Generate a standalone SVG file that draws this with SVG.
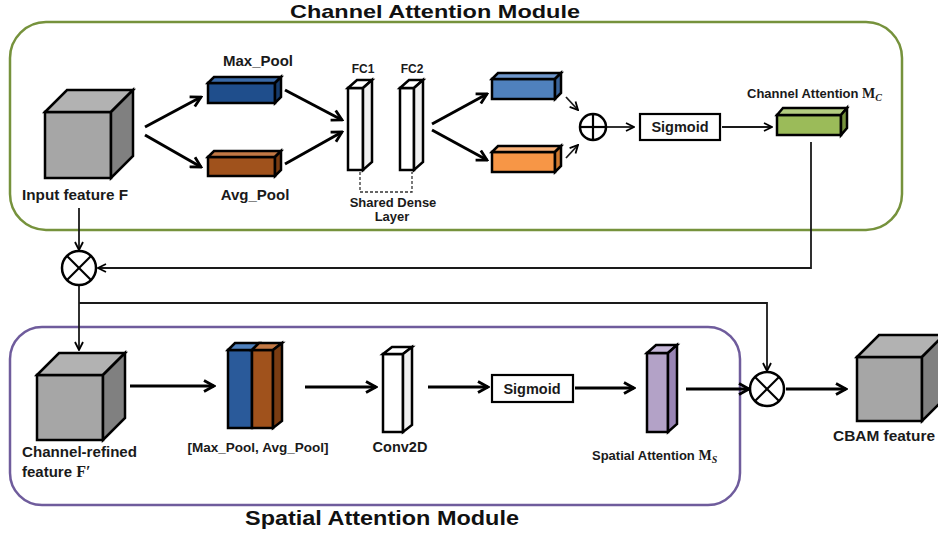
<svg xmlns="http://www.w3.org/2000/svg" width="938" height="535" viewBox="0 0 938 535">
<defs>
<marker id="big" viewBox="0 0 14 14" markerWidth="14" markerHeight="14" refX="12" refY="7" orient="auto" markerUnits="userSpaceOnUse">
<path d="M2,1.5 L12,7 L2,12.5" fill="none" stroke="#000" stroke-width="2.8"/>
</marker>
<marker id="small" viewBox="0 0 10 10" markerWidth="10" markerHeight="10" refX="9" refY="5" orient="auto" markerUnits="userSpaceOnUse">
<path d="M1,1 L9,5 L1,9" fill="none" stroke="#000" stroke-width="1.8"/>
</marker>
</defs>
<style>
.lbl{font-family:"Liberation Sans",Arial,sans-serif;font-weight:bold;fill:#1a1a1a;}
.title{font-family:"Liberation Sans",Arial,sans-serif;font-weight:bold;fill:#111;font-size:19px;}
.math{font-family:"Liberation Serif","Times New Roman",serif;font-weight:bold;}
.box{stroke:#000;stroke-width:2.5;stroke-linejoin:miter;}
.thick{stroke:#000;stroke-width:3;fill:none;}
.thin{stroke:#1a1a1a;stroke-width:1.8;fill:none;}
.op{fill:#fff;stroke:#000;stroke-width:2.5;}
</style>
<rect width="938" height="535" fill="#fff"/>

<!-- Module frames -->
<g id="channel-module">
<rect x="10" y="22" width="892" height="208" rx="36" ry="36" fill="none" stroke="#76923c" stroke-width="2.5"/>
<text class="title" x="435" y="18" text-anchor="middle" textLength="290" lengthAdjust="spacingAndGlyphs">Channel Attention Module</text>
</g>
<g id="spatial-module">
<rect x="10" y="327" width="730" height="178" rx="32" ry="32" fill="none" stroke="#6f5c9c" stroke-width="2.5"/>
<text class="title" x="382" y="525" text-anchor="middle" font-size="21" style="font-size:21px" textLength="274" lengthAdjust="spacingAndGlyphs">Spatial Attention Module</text>
</g>

<!-- Connectors -->
<g id="connectors">
<line class="thick" x1="145" y1="127" x2="201" y2="97" marker-end="url(#big)"/>
<line class="thick" x1="145" y1="135" x2="201" y2="167" marker-end="url(#big)"/>
<line class="thick" x1="285" y1="90" x2="342" y2="120" marker-end="url(#big)"/>
<line class="thick" x1="285" y1="164" x2="342" y2="132" marker-end="url(#big)"/>
<line class="thick" x1="432" y1="124" x2="487" y2="94" marker-end="url(#big)"/>
<line class="thick" x1="432" y1="130" x2="487" y2="160" marker-end="url(#big)"/>
<line class="thin" x1="566" y1="97" x2="578" y2="110" marker-end="url(#small)"/>
<line class="thin" x1="566" y1="158" x2="578" y2="145" marker-end="url(#small)"/>
<line class="thin" x1="607" y1="127" x2="634" y2="127" marker-end="url(#small)"/>
<line class="thin" x1="722" y1="127" x2="772" y2="127" marker-end="url(#small)"/>
<polyline class="thin" points="811,142 811,268 98,268" marker-end="url(#small)"/>
<line class="thin" x1="79" y1="208" x2="79" y2="250" marker-end="url(#small)"/>
<line class="thin" x1="79" y1="286" x2="79" y2="350" marker-end="url(#small)"/>
<polyline class="thin" points="79,303 767,303 767,371" marker-end="url(#small)"/>
<polyline fill="none" stroke="#333" stroke-width="1.3" stroke-dasharray="3,2" points="360,172 360,192 412,192 412,172"/>
<line class="thick" x1="130" y1="386" x2="214" y2="386" marker-end="url(#big)"/>
<line class="thick" x1="305" y1="387" x2="376" y2="387" marker-end="url(#big)"/>
<line class="thick" x1="428" y1="387" x2="488" y2="387" marker-end="url(#big)"/>
<line class="thick" x1="575" y1="388" x2="634" y2="388" marker-end="url(#big)"/>
<line class="thick" x1="686" y1="389" x2="749" y2="389" marker-end="url(#big)"/>
<line class="thick" x1="786" y1="389" x2="846" y2="389" marker-end="url(#big)"/>
</g>

<!-- Input feature cube -->
<g id="input-feature">
<rect class="box" x="45" y="112" width="66" height="66" fill="#a6a6a6"/>
<polygon class="box" points="45,112 67,90 133,90 111,112" fill="#b2b2b2"/>
<polygon class="box" points="111,112 133,90 133,156 111,178" fill="#808080"/>
<text class="lbl" x="22" y="200" font-size="15" textLength="106" lengthAdjust="spacingAndGlyphs">Input feature F</text>
</g>

<g id="max-pool">
<rect class="box" x="208" y="83" width="67" height="20" fill="#1f4e8c"/>
<polygon class="box" points="208,83 214,77 281,77 275,83" fill="#3a6aa8"/>
<polygon class="box" points="275,83 281,77 281,97 275,103" fill="#173c6c"/>
<text class="lbl" x="258" y="66" font-size="15" text-anchor="middle">Max_Pool</text>
</g>

<g id="avg-pool">
<rect class="box" x="208" y="157" width="67" height="19" fill="#a0521c"/>
<polygon class="box" points="208,157 214,151 281,151 275,157" fill="#c27844"/>
<polygon class="box" points="275,157 281,151 281,170 275,176" fill="#7a3c12"/>
<text class="lbl" x="255" y="200" font-size="15" text-anchor="middle">Avg_Pool</text>
</g>

<g id="fc1">
<rect class="box" x="348" y="88" width="15" height="82" fill="#fff"/>
<polygon class="box" points="348,88 357,80 372,80 363,88" fill="#fff"/>
<polygon class="box" points="363,88 372,80 372,162 363,170" fill="#f0f0f0"/>
<text class="lbl" x="363" y="73" font-size="12" text-anchor="middle">FC1</text>
</g>

<g id="fc2">
<rect class="box" x="400" y="88" width="14" height="82" fill="#fff"/>
<polygon class="box" points="400,88 409,80 423,80 414,88" fill="#fff"/>
<polygon class="box" points="414,88 423,80 423,162 414,170" fill="#f0f0f0"/>
<text class="lbl" x="412" y="73" font-size="12" text-anchor="middle">FC2</text>
</g>

<g id="shared-dense-label">
<text class="lbl" x="393" y="207" font-size="13" text-anchor="middle">Shared Dense</text>
<text class="lbl" x="392" y="221" font-size="13" text-anchor="middle">Layer</text>
</g>

<g id="max-out">
<rect class="box" x="492" y="79" width="63" height="20" fill="#4f81bd"/>
<polygon class="box" points="492,79 498,73 561,73 555,79" fill="#6f97cc"/>
<polygon class="box" points="555,79 561,73 561,93 555,99" fill="#3a649a"/>
</g>

<g id="avg-out">
<rect class="box" x="492" y="152" width="63" height="20" fill="#f79646"/>
<polygon class="box" points="492,152 498,146 561,146 555,152" fill="#f9b27a"/>
<polygon class="box" points="555,152 561,146 561,166 555,172" fill="#d07a30"/>
</g>

<g id="add">
<circle class="op" cx="593" cy="127" r="13"/>
<line x1="580" y1="127" x2="606" y2="127" stroke="#000" stroke-width="2.2"/>
<line x1="593" y1="114" x2="593" y2="140" stroke="#000" stroke-width="2.2"/>
</g>

<g id="sigmoid-1">
<rect x="640" y="114" width="80" height="26" fill="#fff" stroke="#000" stroke-width="2.2"/>
<text class="lbl" x="680" y="132" font-size="14.5" text-anchor="middle">Sigmoid</text>
</g>

<g id="channel-attention">
<rect class="box" x="777" y="115" width="64" height="20" fill="#9bbb59"/>
<polygon class="box" points="777,115 783,108 847,108 841,115" fill="#b3cc80"/>
<polygon class="box" points="841,115 847,108 847,128 841,135" fill="#76923c"/>
<text class="lbl" x="747" y="98" font-size="13">Channel Attention <tspan class="math" font-size="14">M</tspan><tspan class="math" font-size="10" font-style="italic" dy="3">C</tspan></text>
</g>

<g id="mul-1">
<circle class="op" cx="79" cy="268" r="17"/>
<line x1="67" y1="256" x2="91" y2="280" stroke="#000" stroke-width="2.2"/>
<line x1="91" y1="256" x2="67" y2="280" stroke="#000" stroke-width="2.2"/>
</g>

<g id="refined-feature">
<rect class="box" x="37" y="375" width="66" height="65" fill="#a6a6a6"/>
<polygon class="box" points="37,375 59,353 125,353 103,375" fill="#b2b2b2"/>
<polygon class="box" points="103,375 125,353 125,418 103,440" fill="#808080"/>
<text class="lbl" x="22" y="457" font-size="15" textLength="115" lengthAdjust="spacingAndGlyphs">Channel-refined</text>
<text class="lbl" x="22" y="477" font-size="15">feature <tspan class="math" font-size="16">F′</tspan></text>
</g>

<g id="concat-pool">
<rect class="box" x="228" y="350" width="24" height="78" fill="#2a5a9a"/>
<rect class="box" x="252" y="350" width="21" height="78" fill="#a0521c"/>
<polygon class="box" points="228,350 235,343 259,343 252,350" fill="#4f81bd"/>
<polygon class="box" points="252,350 259,343 282,343 273,350" fill="#c27844"/>
<polygon class="box" points="273,350 282,343 282,421 273,428" fill="#7a3c12"/>
<text class="lbl" x="258" y="452" font-size="12.5" text-anchor="middle" textLength="141" lengthAdjust="spacingAndGlyphs">[Max_Pool, Avg_Pool]</text>
</g>

<g id="conv2d">
<rect class="box" x="383" y="354" width="20" height="78" fill="#fff"/>
<polygon class="box" points="383,354 392,347 412,347 403,354" fill="#fff"/>
<polygon class="box" points="403,354 412,347 412,425 403,432" fill="#f0f0f0"/>
<text class="lbl" x="400" y="452" font-size="14.5" text-anchor="middle">Conv2D</text>
</g>

<g id="sigmoid-2">
<rect x="492" y="375" width="81" height="27" fill="#fff" stroke="#000" stroke-width="2.2"/>
<text class="lbl" x="532" y="394" font-size="14.5" text-anchor="middle">Sigmoid</text>
</g>

<g id="spatial-attention">
<rect class="box" x="647" y="353" width="21" height="79" fill="#b3a2c7"/>
<polygon class="box" points="647,353 656,345 677,345 668,353" fill="#c6b8d8"/>
<polygon class="box" points="668,353 677,345 677,424 668,432" fill="#9884b4"/>
<text class="lbl" x="592" y="460" font-size="13">Spatial Attention <tspan class="math" font-size="14">M</tspan><tspan class="math" font-size="10" font-style="italic" dy="3">S</tspan></text>
</g>

<g id="mul-2">
<circle class="op" cx="767" cy="389" r="17"/>
<line x1="755" y1="377" x2="779" y2="401" stroke="#000" stroke-width="2.2"/>
<line x1="779" y1="377" x2="755" y2="401" stroke="#000" stroke-width="2.2"/>
</g>

<g id="cbam-feature">
<rect class="box" x="857" y="357" width="65" height="64" fill="#a6a6a6"/>
<polygon class="box" points="857,357 879,335 944,335 922,357" fill="#b2b2b2"/>
<polygon class="box" points="922,357 944,335 944,399 922,421" fill="#808080"/>
<text class="lbl" x="833" y="441" font-size="15" textLength="102" lengthAdjust="spacingAndGlyphs">CBAM feature</text>
</g>
</svg>
